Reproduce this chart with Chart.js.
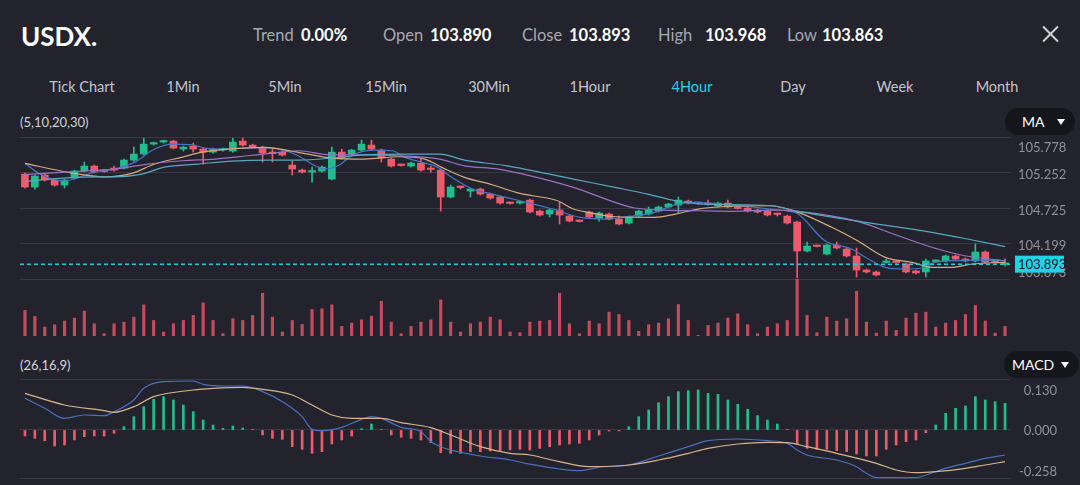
<!DOCTYPE html>
<html><head><meta charset="utf-8">
<script src="https://cdn.jsdelivr.net/npm/chart.js@4.4.1/dist/chart.umd.min.js"></script>
<style>
html,body{margin:0;padding:0;background:#22232c;}
#wrap{position:relative;width:1080px;height:485px;overflow:hidden;background:#22232c;font-family:Lato,'Noto Sans',sans-serif;color:#fff;}
.t{position:absolute;transform:translateY(-50%);white-space:nowrap;line-height:1;}
.c{transform:translate(-50%,-50%);}
canvas{position:absolute;left:0;}
.lbl{color:#a7a8b2;font-size:16.5px;}
.val{color:#fff;font-size:16.5px;font-weight:700;}
.tab{color:#c4c5cc;font-size:14.5px;}
.btn{position:absolute;background:#15161c;border-radius:14px;display:flex;align-items:center;color:#fff;font-size:14px;}
.tri{width:0;height:0;border-left:4px solid transparent;border-right:4px solid transparent;border-top:6px solid #fff;}
</style></head><body><div id="wrap">
<div class="t" style="left:21px;top:36px;font-size:26px;font-weight:700;">USDX.</div>
<div class="t lbl" style="left:253px;top:35px;">Trend</div><div class="t val" style="left:301px;top:35px;">0.00%</div>
<div class="t lbl" style="left:383px;top:35px;">Open</div><div class="t val" style="left:430px;top:35px;">103.890</div>
<div class="t lbl" style="left:522px;top:35px;">Close</div><div class="t val" style="left:569px;top:35px;">103.893</div>
<div class="t lbl" style="left:658px;top:35px;">High</div><div class="t val" style="left:705px;top:35px;">103.968</div>
<div class="t lbl" style="left:787px;top:35px;">Low</div><div class="t val" style="left:822px;top:35px;">103.863</div>
<div style="position:absolute;left:1040px;top:33px;width:21px;height:2px;background:#cfd0d6;transform:rotate(45deg);"></div>
<div style="position:absolute;left:1040px;top:33px;width:21px;height:2px;background:#cfd0d6;transform:rotate(-45deg);"></div>
<div class="t c tab" style="left:82px;top:87px;">Tick Chart</div>
<div class="t c tab" style="left:183px;top:87px;">1Min</div>
<div class="t c tab" style="left:285px;top:87px;">5Min</div>
<div class="t c tab" style="left:386px;top:87px;">15Min</div>
<div class="t c tab" style="left:489px;top:87px;">30Min</div>
<div class="t c tab" style="left:590px;top:87px;">1Hour</div>
<div class="t c tab" style="left:692px;top:87px;color:#22d2e4;">4Hour</div>
<div class="t c tab" style="left:793px;top:87px;">Day</div>
<div class="t c tab" style="left:895px;top:87px;">Week</div>
<div class="t c tab" style="left:997px;top:87px;">Month</div>
<div class="t" style="left:20px;top:122px;font-size:13px;color:#d2d3d8;">(5,10,20,30)</div>
<div class="btn" style="left:1005px;top:108px;width:70px;height:27px;"><span style="margin-left:17px;">MA</span><span class="tri" style="margin-left:13px;"></span></div>
<div class="t" style="left:20px;top:365px;font-size:13px;color:#d2d3d8;">(26,16,9)</div>
<div class="btn" style="left:1004px;top:351px;width:75px;height:27px;"><span style="margin-left:8px;">MACD</span><span class="tri" style="margin-left:7px;"></span></div>
<canvas id="price" width="1080" height="144" style="top:136px;"></canvas>
<canvas id="vol" width="1080" height="57" style="top:279px;"></canvas>
<canvas id="macd" width="1080" height="107" style="top:378px;"></canvas>
</div>
<script>
// ---- candle data (4H bars) ----
const OPEN = [
105.228,105.036,105.214,105.140,105.065,105.169,105.273,105.347,105.273,105.317,
105.317,105.436,105.525,105.673,105.703,105.717,105.599,105.643,105.599,105.554,
105.584,105.569,105.717,105.658,105.614,105.540,105.554,105.362,105.288,105.258,
105.273,105.154,105.554,105.525,105.584,105.658,105.584,105.451,105.362,105.347,
105.391,105.303,105.288,104.888,105.036,104.977,105.006,104.932,104.888,104.799,
104.799,104.843,104.680,104.636,104.695,104.606,104.532,104.666,104.577,104.636,
104.562,104.503,104.606,104.636,104.680,104.740,104.769,104.829,104.799,104.784,
104.754,104.799,104.725,104.725,104.695,104.680,104.636,104.606,104.518,104.088,
104.162,104.043,104.177,104.117,104.014,103.806,103.777,103.918,103.925,103.895,
103.792,103.777,103.933,103.940,104.014,103.969,103.940,104.073,103.925,103.890];
const HIGH = [
105.243,105.214,105.228,105.154,105.154,105.288,105.406,105.362,105.288,105.347,
105.451,105.628,105.762,105.703,105.732,105.732,105.643,105.688,105.614,105.614,
105.614,105.762,105.762,105.673,105.643,105.599,105.569,105.421,105.303,105.332,
105.347,105.628,105.599,105.599,105.732,105.732,105.599,105.466,105.377,105.406,
105.451,105.347,105.303,105.065,105.051,105.021,105.021,104.947,104.903,104.814,
104.829,104.858,104.695,104.710,104.814,104.621,104.547,104.680,104.666,104.651,
104.606,104.606,104.695,104.740,104.754,104.799,104.888,104.843,104.814,104.843,
104.814,104.843,104.740,104.740,104.710,104.695,104.651,104.621,104.532,104.221,
104.177,104.192,104.221,104.132,104.132,103.821,103.792,103.969,103.940,103.910,
103.806,103.969,103.955,104.029,104.029,103.984,104.192,104.088,103.940,103.968];
const LOW = [
105.021,105.006,105.125,105.051,105.021,105.154,105.258,105.243,105.258,105.273,
105.303,105.421,105.510,105.658,105.688,105.599,105.569,105.554,105.377,105.540,
105.569,105.554,105.643,105.614,105.406,105.406,105.495,105.214,105.243,105.110,
105.258,105.140,105.451,105.510,105.569,105.584,105.406,105.332,105.347,105.332,
105.273,105.258,104.680,104.873,105.006,104.888,104.917,104.858,104.784,104.784,
104.784,104.651,104.606,104.592,104.488,104.518,104.518,104.577,104.532,104.547,
104.473,104.488,104.592,104.621,104.666,104.725,104.651,104.784,104.784,104.769,
104.740,104.725,104.710,104.666,104.651,104.606,104.606,104.488,103.688,104.073,
104.147,104.029,104.117,103.999,103.703,103.762,103.718,103.910,103.910,103.762,
103.747,103.703,103.925,103.925,103.955,103.925,103.925,103.910,103.910,103.863];
const CLOSE = [
105.036,105.199,105.140,105.065,105.140,105.273,105.347,105.258,105.266,105.288,
105.436,105.525,105.673,105.688,105.717,105.614,105.628,105.599,105.554,105.599,
105.599,105.703,105.658,105.628,105.540,105.533,105.510,105.303,105.258,105.273,
105.332,105.554,105.466,105.584,105.673,105.599,105.466,105.347,105.355,105.391,
105.288,105.296,104.888,105.036,105.029,105.006,104.932,104.873,104.799,104.792,
104.814,104.666,104.621,104.695,104.621,104.532,104.525,104.592,104.651,104.562,
104.488,104.592,104.680,104.695,104.740,104.784,104.843,104.799,104.792,104.777,
104.799,104.740,104.718,104.680,104.666,104.621,104.629,104.503,104.088,104.162,
104.155,104.177,104.132,104.014,103.806,103.777,103.732,103.925,103.918,103.777,
103.762,103.940,103.940,104.014,103.969,103.940,104.073,103.925,103.918,103.893];
const VOLUME = [
77,59,27,34,45,54,75,37,7,37, 42,57,94,47,12,37,47,62,100,47,
7,52,47,62,129,57,12,47,35,80, 82,94,29,39,49,60,105,42,7,29,
42,49,109,42,12,37,42,57,49,12, 10,42,45,47,129,37,7,45,37,72,
65,47,14,34,39,52,95,47,2,32, 39,54,67,34,7,27,37,47,172,62,
10,57,45,52,135,42,9,45,17,54, 69,72,27,39,47,65,92,45,9,29];
// ---- moving averages: [bar index, price] ----
const MA5 = [[0,105.39],[1.5,105.23],[4,105.125],[5.8,105.2],[7.4,105.273],[9.1,105.303],[11.1,105.406],[13.1,105.599],[14.9,105.673],[16.9,105.662],[18.2,105.614],[19.9,105.599],[22.5,105.614],[24.2,105.62],[26.3,105.574],[27.6,105.5],[29.3,105.351],[30.3,105.303],[31.6,105.351],[33.3,105.525],[35.4,105.584],[37.1,105.574],[38.4,105.476],[40.1,105.402],[41.7,105.328],[43.1,105.18],[45.2,105.006],[47.2,104.932],[50,104.833],[53.3,104.71],[56.1,104.587],[58.8,104.562],[61.1,104.602],[63.6,104.661],[65.7,104.774],[67.7,104.809],[71,104.774],[75.3,104.71],[76.8,104.685],[78.1,104.636],[80.8,104.24],[83.5,104.117],[84.9,103.994],[86.9,103.846],[88.9,103.821],[90.6,103.836],[91.9,103.92],[93.6,103.944],[96.3,103.954],[99,103.944]];
const MA10 = [[0,105.387],[4.4,105.254],[8.1,105.188],[10.8,105.239],[13.1,105.377],[15.9,105.48],[17.9,105.554],[20.5,105.599],[24.2,105.624],[27.6,105.55],[31,105.466],[34.3,105.451],[37.7,105.485],[40.4,105.451],[42.1,105.328],[44.4,105.18],[47.2,105.07],[50,104.942],[51.3,104.907],[53.8,104.833],[55.4,104.71],[56.9,104.661],[59.6,104.596],[63.6,104.587],[65.7,104.636],[68,104.71],[70.4,104.744],[75.3,104.759],[78.1,104.661],[81.5,104.439],[84.1,104.24],[86.9,103.994],[89.6,103.92],[91.6,103.846],[93.6,103.846],[95.7,103.895],[99,103.92]];
const MA20 = [[0,105.22],[5.8,105.273],[9.1,105.303],[12.4,105.377],[15.9,105.426],[19.2,105.451],[22.5,105.5],[24.8,105.535],[27.6,105.574],[31,105.514],[34.3,105.514],[37.7,105.5],[41.9,105.451],[44.4,105.351],[47.8,105.303],[50,105.239],[55.4,105.031],[59.6,104.809],[61.6,104.725],[64.6,104.695],[68,104.685],[71.4,104.676],[75.3,104.695],[78.1,104.676],[84.1,104.528],[88.2,104.314],[92.2,104.117],[94.9,104.018],[99,103.944]];
const MA30 = [[0,105.12],[5.8,105.184],[9.1,105.188],[11.8,105.228],[14.1,105.332],[17.5,105.377],[20.9,105.421],[24.8,105.436],[27.6,105.436],[31,105.466],[34.3,105.514],[37.7,105.525],[41.9,105.525],[44.4,105.436],[48.7,105.351],[55.4,105.154],[59.6,105.031],[62.9,104.932],[65.7,104.833],[68.4,104.784],[75.3,104.759],[78.1,104.676],[84.9,104.513],[91.6,104.365],[95.7,104.251],[99,104.152]];
// ---- MACD (26,16,9) ----
const MACD_HIST = [
-0.0195,-0.0271,-0.0347,-0.052,-0.0487,-0.0325,-0.0217,-0.0195,-0.0195,-0.0108,
0.0108,0.0433,0.0758,0.0997,0.1083,0.0975,0.0812,0.0596,0.0325,0.0162,
0.0054,0.013,0.0065,0.0011,-0.0162,-0.0271,-0.0303,-0.0542,-0.0628,-0.0758,
-0.0704,-0.0455,-0.0325,-0.0195,0.0043,0.0195,0.0011,-0.0162,-0.0238,-0.0271,
-0.0325,-0.0412,-0.0737,-0.0758,-0.0758,-0.0704,-0.0704,-0.0682,-0.0672,-0.065,
-0.0628,-0.065,-0.0596,-0.0542,-0.0487,-0.0455,-0.0433,-0.0325,-0.0162,-0.0032,
-0.0032,0.0108,0.0433,0.065,0.0888,0.1083,0.1246,0.1278,0.13,0.1192,
0.1159,0.0975,0.0834,0.0672,0.0466,0.0325,0.0195,0.0011,-0.0455,-0.0596,
-0.0628,-0.0628,-0.0672,-0.0704,-0.078,-0.0845,-0.0845,-0.0628,-0.0487,-0.0379,
-0.0325,-0.0087,0.0162,0.0542,0.0704,0.078,0.1083,0.0975,0.0921,0.0867];
const DIF = [[0,0.1029],[2,0.0704],[4,0.0379],[6,0.0487],[8,0.0466],[9,0.0596],[11,0.0975],[12,0.1354],[14,0.1571],[17,0.1592],[18,0.1484],[20,0.143],[22,0.143],[24,0.1246],[26,0.0921],[28,0.0433],[29,0.0022],[30,-0.0022],[32,0.0087],[34,0.0347],[35,0.0433],[36,0.0379],[38,0.0087],[40,-0.0054],[41,-0.0379],[42,-0.0542],[43,-0.065],[46,-0.0845],[49,-0.0975],[51,-0.111],[54,-0.1267],[56,-0.1322],[58,-0.1213],[61,-0.1137],[64,-0.0845],[67,-0.0542],[69,-0.0347],[72,-0.0292],[75,-0.0347],[77,-0.0433],[78,-0.065],[79,-0.0812],[82,-0.0975],[84,-0.1192],[85,-0.1408],[86,-0.1549],[90,-0.1549],[91,-0.1462],[93,-0.1246],[95,-0.1083],[97,-0.0921],[99,-0.0812]];
const DEA = [[0,0.1192],[4,0.0812],[8,0.0628],[9,0.0574],[11,0.0758],[13,0.1083],[17,0.13],[19,0.1354],[22,0.1387],[24,0.1322],[27,0.1137],[29,0.0812],[31,0.0487],[33,0.0379],[36,0.0379],[38,0.0238],[41,0.0076],[43,-0.0162],[46,-0.0542],[49,-0.0758],[51,-0.0812],[54,-0.1029],[57,-0.1192],[61,-0.1137],[64,-0.0975],[67,-0.0758],[69,-0.0596],[72,-0.0455],[75,-0.0401],[77,-0.0412],[79,-0.0542],[82,-0.0758],[86,-0.1083],[88,-0.13],[90,-0.1387],[92,-0.1354],[95,-0.1246],[97,-0.1137],[99,-0.1029]];
// ---- axes ----
const PRICE_TICKS = [105.778, 105.252, 104.725, 104.199, 103.673];
const PRICE_TICK_LABELS = ['105.778','105.252','104.725','104.199','103.673'];
const LAST_PRICE = 103.893;
const MACD_GRID = [0.1657, 0, -0.157];
const MACD_TICKS = [0.130, 0.000, -0.258];
const MACD_TICK_LABELS = ['0.130','0.000','-0.258'];

const GREEN = '#21bd8e', RED = '#ee5a6c', VOLCOL = '#c44b5d', GRID = '#383944', AXTXT = '#8f909b';
const N = OPEN.length;
const IDX = OPEN.map((_, i) => i);
const candleColors = IDX.map(i => CLOSE[i] >= OPEN[i] ? GREEN : RED);

const xScale = () => ({type:'linear', min:-0.5, max:N - 0.5, offset:false, bounds:'ticks', display:false,
  grid:{offset:false}, ticks:{display:false}});
function yRight(extra){
  return Object.assign({position:'right', afterFit(s){ s.width = 70; }, border:{display:false},
    ticks:{display:false}, grid:{color:GRID, drawTicks:false, lineWidth:1}}, extra);
}
const base = {responsive:false, animation:false, events:[],
  plugins:{legend:{display:false}, tooltip:{enabled:false}}};
function line(data, color, order){
  return {type:'line', data, borderColor:color, borderWidth:1.2, pointRadius:0, fill:false,
    cubicInterpolationMode:'monotone', order};
}

const priceLabels = {
  id:'priceLabels',
  afterDraw(chart){
    const {ctx, chartArea:a, scales:{y}} = chart;
    ctx.save();
    const ly = y.getPixelForValue(LAST_PRICE);
    ctx.setLineDash([4,3]); ctx.strokeStyle = '#27c9de'; ctx.lineWidth = 1.5;
    ctx.beginPath(); ctx.moveTo(a.left, ly); ctx.lineTo(a.right, ly); ctx.stroke();
    ctx.setLineDash([]);
    ctx.font = '13px Lato'; ctx.textAlign = 'left'; ctx.textBaseline = 'middle'; ctx.fillStyle = AXTXT;
    PRICE_TICKS.forEach((v, i) => {
      let py = y.getPixelForValue(v) + 2.5;
      py = Math.min(Math.max(py, a.top + 11), a.bottom - 6);
      ctx.fillText(PRICE_TICK_LABELS[i], a.right + 8, py);
    });
    ctx.fillStyle = '#1fd3e7'; ctx.fillRect(a.right + 5, ly - 8.5, 49, 17);
    ctx.fillStyle = '#13151b'; ctx.fillText(LAST_PRICE.toFixed(3), a.right + 8, ly + 0.5);
    ctx.restore();
  }
};
new Chart(document.getElementById('price'), {
  type:'bar',
  data:{datasets:[
    line(MA30, '#58a7c2', 0), line(MA20, '#9c72c4', 0), line(MA10, '#d5ab7f', 0), line(MA5, '#4a74c6', 0),
    {label:'body', data:IDX.map(i => ({x:i, y:[OPEN[i], CLOSE[i]]})), backgroundColor:candleColors,
      barThickness:7, minBarLength:1.5, grouped:false, borderWidth:0, order:2},
    {label:'wick', data:IDX.map(i => ({x:i, y:[LOW[i], HIGH[i]]})), backgroundColor:candleColors,
      barThickness:1, grouped:false, borderWidth:0, order:3}
  ]},
  options:Object.assign({}, base, {
    layout:{padding:{left:20, right:0, top:1, bottom:1}},
    scales:{x:xScale(), y:yRight({min:103.673, max:105.778,
      afterBuildTicks(s){ s.ticks = PRICE_TICKS.map(v => ({value:v})); }})}
  }),
  plugins:[priceLabels]
});

new Chart(document.getElementById('vol'), {
  type:'bar',
  data:{datasets:[{data:IDX.map(i => ({x:i, y:VOLUME[i]})), backgroundColor:VOLCOL, barThickness:2.5, borderWidth:0}]},
  options:Object.assign({}, base, {
    layout:{padding:{left:20, right:0, top:0, bottom:0}},
    scales:{x:xScale(), y:yRight({min:0, max:172, grid:{display:false}})}
  })
});

const macdLabels = {
  id:'macdLabels',
  afterDraw(chart){
    const {ctx, chartArea:a, scales:{y}} = chart;
    ctx.save();
    ctx.font = '13px Lato'; ctx.textAlign = 'right'; ctx.textBaseline = 'middle'; ctx.fillStyle = AXTXT;
    MACD_TICKS.forEach((v, i) => {
      let py = y.getPixelForValue(v) + 1;
      py = Math.min(Math.max(py, a.top + 8), a.bottom - 13);
      ctx.fillText(MACD_TICK_LABELS[i], a.right + 47, py);
    });
    ctx.restore();
  }
};
new Chart(document.getElementById('macd'), {
  type:'bar',
  data:{datasets:[
    line(DEA, '#d8b58e', 0), line(DIF, '#4a6fbd', 0),
    {data:IDX.map(i => ({x:i, y:MACD_HIST[i]})), backgroundColor:MACD_HIST.map(v => v >= 0 ? GREEN : RED),
      barThickness:2, borderWidth:0, order:2}
  ]},
  options:Object.assign({}, base, {
    layout:{padding:{left:20, right:0, top:1, bottom:0}},
    scales:{x:xScale(), y:yRight({min:-0.1787, max:0.1657,
      afterBuildTicks(s){ s.ticks = MACD_GRID.map(v => ({value:v})); }})}
  }),
  plugins:[macdLabels]
});
</script>
</body></html>
